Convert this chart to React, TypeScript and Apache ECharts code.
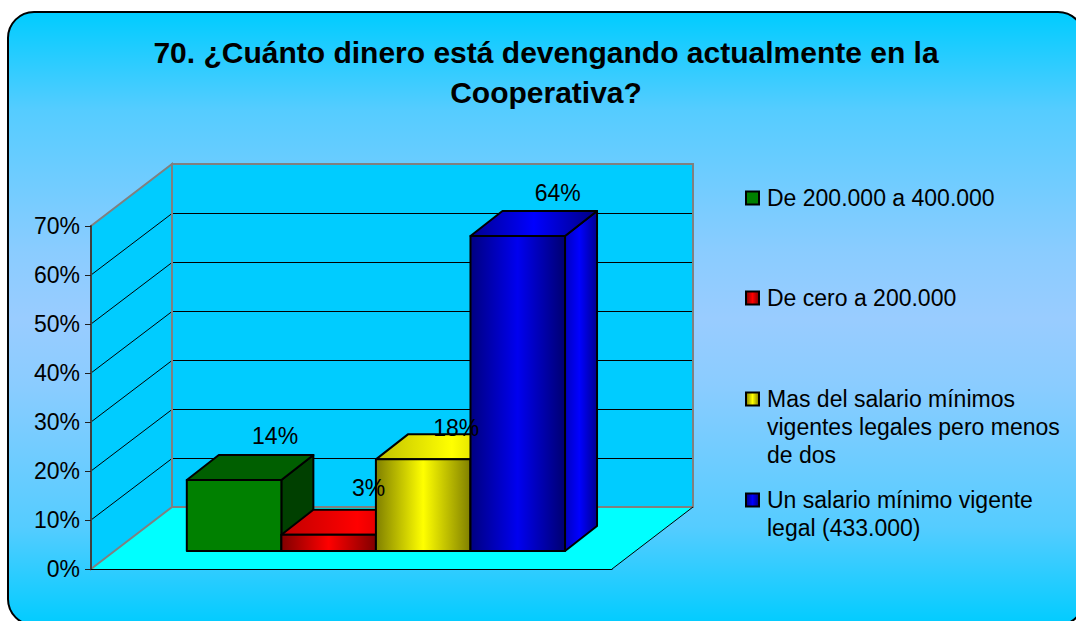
import React, { useEffect, useRef } from "react";
import * as echarts from "echarts";

const titleText = "70. ¿Cuánto dinero está devengando actualmente en la\nCooperativa?";
const seriesNames = [
  "De 200.000 a 400.000",
  "De cero a 200.000",
  "Mas del salario mínimos vigentes legales pero menos de dos",
  "Un salario mínimo vigente legal (433.000)",
];
const legendLines = [
  ["De 200.000 a 400.000"],
  ["De cero a 200.000"],
  ["Mas del salario mínimos", "vigentes legales pero menos", "de dos"],
  ["Un salario mínimo vigente", "legal (433.000)"],
];
const barValues = [14.5, 3.3, 18.7, 64.3];
const barLabels = ["14%", "3%", "18%", "64%"];
const yTicks = [0, 10, 20, 30, 40, 50, 60, 70];

const FONT = "'Liberation Sans', Arial, sans-serif";
const X_MIN = -0.77;
const X_MAX = 4.74;
const WALL_DX = 81;
const WALL_DY = 62;
const BAR_FRONT_DX = 23;
const BAR_FRONT_DY = 18;
const BAR_DX = 32;
const BAR_DY = 25;
const LABEL_OFFSET = [
  [41, -44],
  [40, -47],
  [33, -31],
  [40, -43],
];
const LEGEND_TOP = [184, 284, 329, 458];

const hGrad = (stops: [number, string][]) =>
  new echarts.graphic.LinearGradient(0, 0, 1, 0, stops.map(([offset, color]) => ({ offset, color })));

const faces = [
  { front: "#008000", top: "#005F00", side: "#004000" },
  {
    front: hGrad([[0, "#800000"], [0.5, "#FF0000"], [1, "#800000"]]),
    top: hGrad([[0, "#C00000"], [0.6, "#FF0000"], [1, "#C00000"]]),
    side: "#800000",
  },
  {
    front: hGrad([[0, "#808000"], [0.5, "#FFFF00"], [1, "#808000"]]),
    top: hGrad([[0, "#C0C000"], [0.6, "#FFFF00"], [1, "#C0C000"]]),
    side: "#808000",
  },
  {
    front: hGrad([[0, "#000080"], [0.5, "#0000F0"], [1, "#000070"]]),
    top: hGrad([[0, "#000090"], [0.5, "#0000FF"], [1, "#000080"]]),
    side: hGrad([[0, "#0000C0"], [0.45, "#0000FF"], [1, "#000090"]]),
  },
];
const legendIconColors = [
  "#008000",
  hGrad([[0, "#800000"], [0.5, "#FF0000"], [1, "#800000"]]),
  hGrad([[0, "#808000"], [0.5, "#FFFF00"], [1, "#808000"]]),
  hGrad([[0, "#000080"], [0.5, "#0000FF"], [1, "#000080"]]),
];

const crisp = (n: number) => Math.round(n) + 0.5;

const wallsRender = (_p: any, api: any) => {
  const o = api.coord([X_MIN, 0]);
  const r = api.coord([X_MAX, 0]);
  const t = api.coord([X_MIN, 70]);
  const bx = o[0] + WALL_DX;
  const brx = r[0] + WALL_DX;
  const by = o[1] - WALL_DY;
  const bt = t[1] - WALL_DY;
  const gray = "#808080";
  const children: any[] = [
    { type: "polygon", shape: { points: [[o[0], o[1]], [r[0], r[1]], [brx, by], [bx, by]] }, style: { fill: "#00FFFF", stroke: "none" } },
    { type: "polygon", shape: { points: [[bx, bt], [brx, bt], [brx, by], [bx, by]] }, style: { fill: "#00CCFF", stroke: "none" } },
    { type: "polygon", shape: { points: [[o[0], o[1]], [bx, by], [bx, bt], [t[0], t[1]]] }, style: { fill: "#00CCFF", stroke: "none" } },
  ];
  yTicks.slice(1, -1).forEach((v) => {
    const p = api.coord([X_MIN, v]);
    const y = crisp(p[1] - WALL_DY);
    children.push({ type: "line", shape: { x1: p[0], y1: p[1], x2: bx, y2: y }, style: { stroke: "#000", lineWidth: 1 } });
    children.push({ type: "line", shape: { x1: bx, y1: y, x2: brx, y2: y }, style: { stroke: "#000", lineWidth: 1 } });
  });
  children.push(
    { type: "polygon", shape: { points: [[bx, bt], [brx, bt], [brx, by], [bx, by]] }, style: { fill: "none", stroke: gray, lineWidth: 2 } },
    { type: "polygon", shape: { points: [[o[0], o[1]], [bx, by], [bx, bt], [t[0], t[1]]] }, style: { fill: "none", stroke: gray, lineWidth: 2 } },
    { type: "line", shape: { x1: r[0], y1: r[1], x2: brx, y2: by }, style: { stroke: "#000", lineWidth: 1 } }
  );
  return { type: "group", children };
};

const barRender = (_p: any, api: any) => {
  const i = api.value(0);
  const v = api.value(1);
  const bl = api.coord([i, 0]);
  const br = api.coord([i + 1, 0]);
  const tl = api.coord([i, v]);
  const x0 = bl[0] + BAR_FRONT_DX;
  const x1 = br[0] + BAR_FRONT_DX;
  const y0 = bl[1] - BAR_FRONT_DY;
  const y1 = tl[1] - BAR_FRONT_DY;
  const f = faces[i];
  const edge = { stroke: "#000", lineWidth: 2, lineJoin: "round" };
  return {
    type: "group",
    children: [
      { type: "polygon", shape: { points: [[x1, y0], [x1 + BAR_DX, y0 - BAR_DY], [x1 + BAR_DX, y1 - BAR_DY], [x1, y1]] }, style: { fill: f.side, ...edge } },
      { type: "polygon", shape: { points: [[x0, y1], [x1, y1], [x1 + BAR_DX, y1 - BAR_DY], [x0 + BAR_DX, y1 - BAR_DY]] }, style: { fill: f.top, ...edge } },
      { type: "polygon", shape: { points: [[x0, y0], [x1, y0], [x1, y1], [x0, y1]] }, style: { fill: f.front, ...edge } },
    ],
  };
};

const labelRender = (_p: any, api: any) => {
  const i = api.value(0);
  const p = api.coord([i + 0.5, api.value(1)]);
  return {
    type: "text",
    x: p[0] + BAR_FRONT_DX + LABEL_OFFSET[i][0],
    y: p[1] - BAR_FRONT_DY + LABEL_OFFSET[i][1],
    style: { text: barLabels[i], fill: "#000", font: `23px ${FONT}`, align: "center", verticalAlign: "middle" },
  };
};

export default function App() {
  const ref = useRef<HTMLDivElement>(null);
  useEffect(() => {
    const chart = echarts.init(ref.current!, undefined, { renderer: "svg" });
    const bg = new echarts.graphic.LinearGradient(0, 0, 0, 1, [
      { offset: 0, color: "#00CCFF" },
      { offset: 0.16, color: "#55CCFF" },
      { offset: 0.39, color: "#8ACCFF" },
      { offset: 0.5, color: "#99CCFF" },
      { offset: 0.61, color: "#8ACCFF" },
      { offset: 0.84, color: "#55CCFF" },
      { offset: 1, color: "#00CCFF" },
    ]);
    chart.setOption({
      animation: false,
      backgroundColor: "#FFFFFF",
      title: {
        text: titleText,
        left: 546,
        top: 32,
        textAlign: "center",
        padding: 0,
        textStyle: { fontFamily: FONT, fontSize: 30, fontWeight: "bold", color: "#000", lineHeight: 40 },
      },
      graphic: [
        {
          type: "rect",
          z: -10,
          silent: true,
          shape: { x: 8, y: 12, width: 1076, height: 613, r: 26 },
          style: { fill: bg, stroke: "#000", lineWidth: 2 },
        },
      ],
      legend: seriesNames.map((name, i) => ({
        data: [name],
        left: 745,
        top: LEGEND_TOP[i],
        padding: 0,
        orient: "vertical",
        itemWidth: 13,
        itemHeight: 13,
        icon: "rect",
        selectedMode: false,
        itemStyle: { color: legendIconColors[i], borderColor: "#000", borderWidth: 2 },
        textStyle: { fontFamily: FONT, fontSize: 23, color: "#000", lineHeight: 28, padding: [0, 0, 0, 3] },
        formatter: () => {
          const lines = legendLines[i];
          return "\n".repeat(lines.length - 1) + lines.join("\n");
        },
      })),
      grid: { left: 91, top: 226, width: 521, height: 343 },
      xAxis: {
        type: "value",
        min: X_MIN,
        max: X_MAX,
        z: 8,
        axisLine: { show: true, onZero: false, lineStyle: { color: "#000", width: 1 } },
        axisTick: { show: false },
        axisLabel: { show: false },
        splitLine: { show: false },
      },
      yAxis: {
        type: "value",
        min: 0,
        max: 70,
        interval: 10,
        z: 8,
        axisLine: { show: true, onZero: false, lineStyle: { color: "#404040", width: 2 } },
        axisTick: { show: true, length: 6, lineStyle: { color: "#202020", width: 1 } },
        axisLabel: { formatter: "{value}%", margin: 11, fontFamily: FONT, fontSize: 23, color: "#000" },
        splitLine: { show: false },
      },
      series: [
        { type: "custom", name: "walls", z: 2, silent: true, data: [[0, 0]], renderItem: wallsRender, encode: { x: 0, y: 1 } },
        ...seriesNames.map((name, i) => ({
          type: "custom",
          name,
          z: 3 + i,
          silent: true,
          itemStyle: { color: legendIconColors[i] },
          data: [[i, barValues[i]]],
          renderItem: barRender,
          encode: { x: 0, y: 1 },
        })),
        {
          type: "custom",
          name: "labels",
          z: 9,
          silent: true,
          data: barValues.map((v, i) => [i, v]),
          renderItem: labelRender,
          encode: { x: 0, y: 1 },
        },
      ],
    });
    return () => chart.dispose();
  }, []);
  return <div ref={ref} style={{ position: "fixed", left: 0, top: 0, width: 1076, height: 621 }} />;
}
